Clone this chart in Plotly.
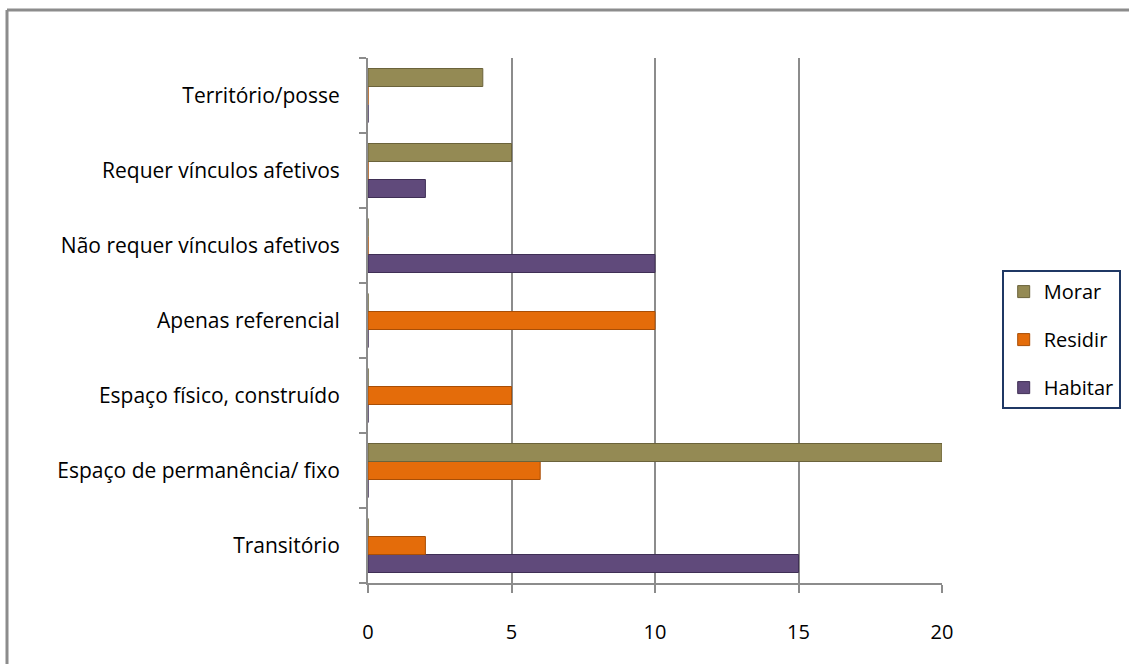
import plotly.graph_objects as go

categories = [
    "Transitório",
    "Espaço de permanência/ fixo",
    "Espaço físico, construído",
    "Apenas referencial",
    "Não requer vínculos afetivos",
    "Requer vínculos afetivos",
    "Território/posse",
]
habitar = [15, 0, 0, 0, 10, 2, 0]
residir = [2, 6, 5, 10, 0, 0, 0]
morar = [0, 20, 0, 0, 0, 5, 4]

series = [
    ("Habitar", habitar, "#604A7B", "#3F2F55", 3),
    ("Residir", residir, "#E46C0A", "#A84E06", 2),
    ("Morar", morar, "#948A54", "#6B633B", 1),
]

fig = go.Figure()
for name, vals, col, edge, rank in series:
    fig.add_trace(go.Bar(
        y=categories, x=vals, name=name, orientation="h",
        marker=dict(color=col, line=dict(color=edge, width=1)),
        legendgroup=name, legendrank=rank,
    ))

font_family = "Open Sans, Noto Sans, sans-serif"
fig.update_layout(
    width=1129, height=664,
    margin=dict(l=368, r=187, t=58, b=81, autoexpand=False),
    paper_bgcolor="white", plot_bgcolor="white",
    barmode="group", bargap=0.28, bargroupgap=0,
    font=dict(family=font_family, size=21, color="#000000"),
    legend=dict(
        x=1.104, y=0.596, xanchor="left", yanchor="top",
        traceorder="grouped", tracegroupgap=19,
        bordercolor="#1F3864", borderwidth=2, bgcolor="white",
        font=dict(size=20, family=font_family),
        itemwidth=30,
    ),
    xaxis=dict(
        range=[0, 20], tickvals=[0, 5, 10, 15, 20],
        showgrid=True, gridcolor="#8C8C8C", gridwidth=2,
        zeroline=False, showline=True, linecolor="#8C8C8C", linewidth=2,
        ticks="outside", ticklen=8, tickcolor="#8C8C8C", tickwidth=2,
        ticklabelstandoff=22,
        tickfont=dict(size=20),
    ),
    yaxis=dict(
        showgrid=False, showline=True, linecolor="#8C8C8C", linewidth=2,
        ticks="outside", ticklen=7, tickcolor="#8C8C8C", tickwidth=2,
        tickson="boundaries", ticklabelstandoff=22,
        tickfont=dict(size=21),
    ),
    shapes=[
        dict(type="line", xref="paper", yref="paper",
             x0=(7 - 368) / 574, x1=2, y0=(583 - 10) / 525, y1=(583 - 10) / 525,
             line=dict(color="#8C8C8C", width=3)),
        dict(type="line", xref="paper", yref="paper",
             x0=(7 - 368) / 574, x1=(7 - 368) / 574, y0=-1, y1=(583 - 10) / 525,
             line=dict(color="#8C8C8C", width=3)),
    ],
)

fig.write_html("out.html")
